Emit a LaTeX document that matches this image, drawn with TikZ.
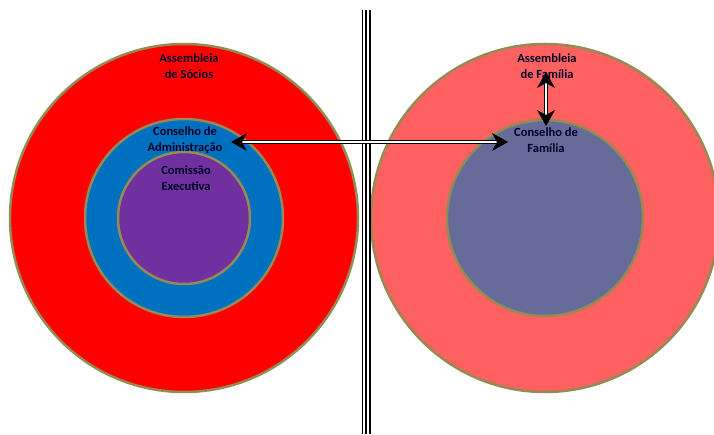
\documentclass[tikz,border=0pt]{standalone}
\usepackage{fontspec}
\setmainfont{Carlito}
\usetikzlibrary{arrows.meta}
\definecolor{ringline}{RGB}{148,138,84}
\definecolor{socred}{RGB}{255,0,0}
\definecolor{admblue}{RGB}{0,112,192}
\definecolor{comviolet}{RGB}{112,48,160}
\definecolor{famred}{RGB}{255,97,97}
\definecolor{famslate}{RGB}{102,107,153}

\begin{document}
\begin{tikzpicture}[x=1pt,y=1pt,
		ring/.style={draw=ringline,line width=2.5pt},
		lbl/.style={font=\bfseries\fontsize{12.5}{15.5}\selectfont,align=center,text=black!85!blue,inner sep=0pt},
		link/.style={double,double distance=2.2pt,line width=0.9pt,
			{Stealth[length=16pt,width=18pt,inset=5pt]}-{Stealth[length=16pt,width=18pt,inset=5pt]}}]
				\useasboundingbox (0,0) rectangle (714,434);
				% centres
				\coordinate (Socios) at (184,216);
				\coordinate (Familia) at (545,216);
				% left side
				\fill[socred,ring] (Socios) circle (174);
				\fill[admblue,ring] (Socios) circle (99);
				\fill[comviolet,ring] (Socios) circle (66);
				% right side
				\fill[famred,ring] (Familia) circle (174);
				\fill[famslate,ring] (Familia) circle (98);
				% separator
				\coordinate (SepTop) at (366,424);
				\coordinate (SepBot) at (366,0);
				\draw[line width=9pt] (SepTop) -- (SepBot);
				\draw[white,line width=6pt] (SepTop) -- (SepBot);
				\draw[line width=2pt] (SepTop) -- (SepBot);
				% labels
				\node[lbl] (AS) at (189,368) {Assembleia\\de Sócios};
				\node[lbl] (CA) at (185,294) {Conselho de\\Administração};
				\node[lbl] (CE) at (186,256) {Comissão\\Executiva};
				\node[lbl] (AF) at (547,368) {Assembleia\\de Família};
				\node[lbl] (CF) at (546,294) {Conselho de\\Família};
				% links
				\coordinate (CAend) at (231,292);
				\coordinate (CFend) at (508,292);
				\coordinate (AFend) at (546,362);
				\coordinate (CFtop) at (546,308);
				\draw[link] (CAend) -- (CFend);
				\draw[link] (AFend) -- (CFtop);
\end{tikzpicture}
\end{document}
